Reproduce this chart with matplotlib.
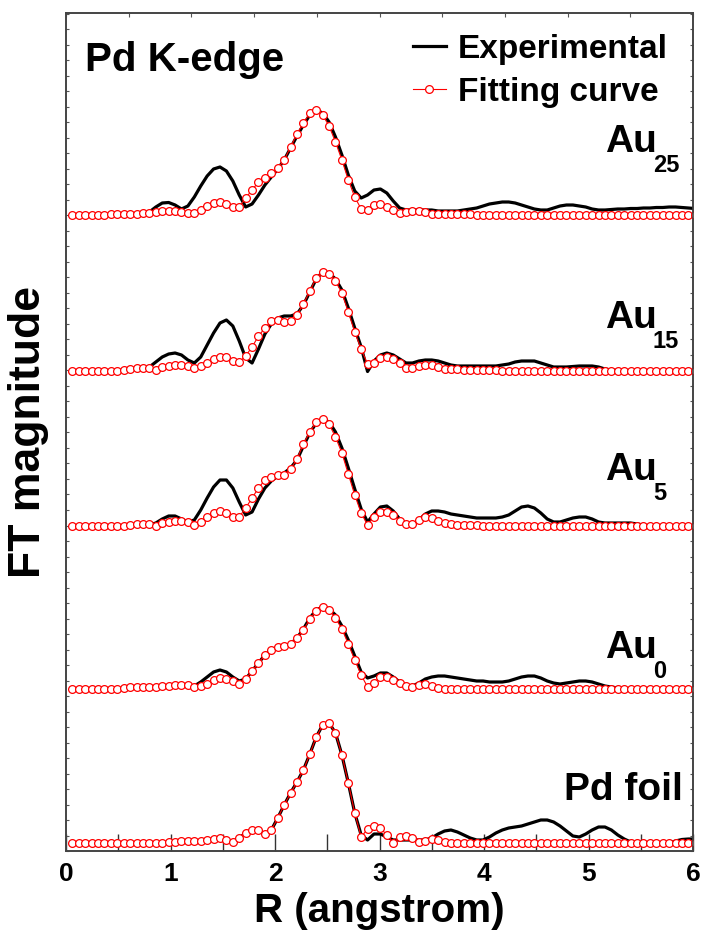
import numpy as np
import matplotlib
matplotlib.use("Agg")
import matplotlib.pyplot as plt
from matplotlib.ticker import MultipleLocator

plt.rcParams['font.family'] = ['Liberation Sans', 'DejaVu Sans']
plt.rcParams['font.weight'] = 'bold'

# R grid (angstrom) for the spectra
r = np.arange(1, 99) * 0.0614

# heights above baseline
au25_fit = [0, 0, 0, 0, 0, 0, 0.5, 0.5, 1, 1, 1, 1.5,
            2, 3, 4, 4, 4, 3, 2, 2,
            5, 9, 12, 13, 11, 8, 8, 17, 25, 33,
            37, 42, 47, 55, 68, 81, 92, 102, 105, 100,
            89, 73, 55, 35, 18, 6, 5, 10, 11, 8,
            5, 2, 3, 4, 4, 3, 1, 1, 1, 0.5,
            0.5, 0.5, 0.5, 0, 0, 0, 0, 0, 0, 0,
            0, 0, 0, 0, 0, 0, 0, 0, 0, 0,
            0, 0, 0, 0, 0, 0, 0, 0, 0, 0,
            0, 0, 0, 0, 0, 0, 0, 0]
au25_exp = [0, 0, 0, 0, 0, 0, 0, 0, 0.5, 0.5, 1, 1.5,
            3, 8, 12, 12.5, 10, 6, 9, 18,
            29, 39, 46, 48, 44, 34, 20, 8, 11, 20,
            30, 38, 46, 55, 67, 79, 90, 100, 105, 102,
            93, 78, 60, 40, 24, 17, 20, 25, 26, 22,
            14, 7, 5, 5, 5, 5, 5, 4, 4, 4,
            4, 5, 6, 7, 9, 11, 12, 13, 13, 12,
            10, 8, 6, 5, 5, 7, 9, 10, 10, 9,
            8, 6, 5, 5, 5.5, 6, 6, 6.5, 6.5, 7,
            7, 7.5, 7.5, 8, 8, 7.5, 7, 6.5]

au15_fit = [0, 0, 0, 0, 0, 0, 0, 0, 1, 2, 2.5, 3,
            2.5, 1, 4, 5, 6, 6, 5, 3,
            5, 8, 12, 14, 14, 10, 9, 15, 24, 35,
            43, 50, 51, 49, 50, 56, 67, 80, 93, 99,
            97, 90, 78, 59, 39, 22, 7, 8, 13, 14,
            12, 8, 3, 3, 5, 6, 6, 4, 2, 2,
            1.5, 1, 1, 1, 0.5, 0.5, 0.5, 0, 0, 0,
            0, 0, 0, 0, 0, 0, 0, 0, 0, 0,
            0, 0, 0, 0, 0, 0, 0, 0, 0, 0,
            0, 0, 0, 0, 0, 0, 0, 0]
au15_exp = [0, 0, 0, 0, 0, 0, 0, 0, 1, 2, 2.5, 3,
            4, 9, 14, 17, 18, 16, 11, 8,
            14, 26, 38, 48, 51, 45, 30, 13, 8, 22,
            37, 47, 53, 55, 55, 57, 66, 79, 92, 99,
            98, 92, 81, 63, 43, 24, -0.5, 10, 16, 18,
            16, 12, 8, 8, 10, 11, 11, 10, 8, 6,
            5, 5, 5, 5, 5, 5, 5, 6, 7, 9,
            10, 10, 10, 8, 6, 4, 4, 4, 4.5, 5,
            5, 5, 4, 2, 1, 0.5, 0, 0, 0, 0,
            0, 0, 0, 0, 0, 0, 0, 0]

au5_fit = [0, 0, 0, 0, 0, 0, 0, 0, 0, 1, 2, 2,
           2, 0.5, 3, 4, 5, 5, 4, 1,
           4, 9, 13, 15, 13, 9, 9, 18, 28, 38,
           46, 49, 51, 51, 57, 67, 82, 94, 104, 107,
           102, 89, 73, 52, 31, 13, 1, 9, 14, 14,
           11, 5, 2, 2, 6, 9, 8, 5, 3, 2,
           1.5, 1, 1, 1, 0.5, 0, 0, 0, 0, 0,
           0, 0, 0, 0, 0, 0, 0, 0, 0, 0,
           0, 0, 0, 0, 0, 0, 0, 0, 0, 0,
           0, 0, 0, 0, 0, 0, 0, 0]
au5_exp = [0, 0, 0, 0, 0, 0, 0, 0, 0, 0, 0.5, 0.5,
           1, 3, 7, 10, 10, 7, 4, 6,
           16, 28, 39, 46, 46, 38, 24, 11, 14, 27,
           38, 45, 50, 53, 58, 66, 80, 93, 103, 107,
           104, 94, 78, 58, 37, 17, 4, 12, 19, 20,
           15, 7, 2, 1, 6, 12, 15, 15, 14, 12,
           11, 10, 9, 8, 8, 8, 8, 9, 11, 15,
           19, 20, 18, 13, 7, 4, 4, 6, 8, 9,
           9, 7, 4, 3, 3, 3, 3, 3, 2, 1,
           0, 0, 0, 0, 0, 0, 0, 0]

au0_fit = [0, 0, 0, 0, 0, 0, 0, 0, 1, 2, 2, 2,
           2, 2, 3, 3, 4, 4, 4, 2,
           3, 5, 9, 11, 10, 8, 5, 10, 18, 26,
           34, 39, 42, 43, 45, 51, 59, 70, 78, 82,
           79, 71, 60, 45, 29, 14, 2, 6, 12, 12,
           9, 6, 3, 2, 4, 5, 3, 1, 0.5, 0.5,
           0, 0, 0, 0, 0, 0, 0, 0, 0, 0,
           0, 0, 0, 0, 0, 0, 0, 0, 0, 0,
           0, 0, 0, 0, 0, 0, 0, 0, 0, 0,
           0, 0, 0, 0, 0, 0, 0, 0]
au0_exp = [0, 0, 0, 0, 0, 0, 0, 0, 1, 2, 2, 2,
           2, 2, 3, 3, 4, 4, 3, 3,
           7, 12, 17, 19, 17, 12, 8, 10, 18, 26,
           34, 39, 42, 43, 45, 51, 60, 71, 79, 82,
           80, 74, 63, 49, 33, 17, 11, 13, 16, 16,
           12, 7, 3, 3, 6, 10, 12, 13, 13, 12,
           11, 10, 9, 8, 8, 7, 7, 7, 8, 10,
           12, 13, 13, 11, 8, 6, 5, 6, 7, 8,
           8, 7, 5, 3, 2, 1, 0, 0, 0, 0,
           0, 0, 0, 0, 0, 0, 0, 0]

foil_fit = [0, 0, 0, 0, 0, 0, 0, 0, 0, 0, 0, 0,
            0, 0, 0, 1, 1, 2, 2, 2,
            2, 3, 4, 5, 3, 1, 5, 10, 13, 13,
            9, 13, 25, 38, 50, 61, 73, 89, 106, 118,
            120, 110, 88, 60, 30, 6, 14, 17, 15, 8,
            0, 6, 7, 5, 1, 2, 4, 3, 1, 0,
            0, 0, 0, 0, 0, 0, 0, 0, 0, 0,
            0, 0, 0, 0, 0, 0, 0, 0, 0, 0,
            0, 0, 0, 0, 0, 0, 0, 0, 0, 0,
            0, 0, 0, 0, 0, 0, 0, 0]
foil_exp = [0, 0, 0, 0, 0, 0, 0, 0, 0, 0, 0, 0,
            0, 0, 0, 1, 1, 2, 2, 2,
            2, 3, 4, 5, 3, 1, 5, 10, 13, 13,
            9, 13, 25, 38, 50, 61, 73, 89, 106, 118,
            120, 110, 88, 60, 30, 8, 3, 9, 9, 6,
            3, 3, 3, 3, 3, 3, 5, 9, 12, 13,
            11, 8, 5, 3, 3, 6, 10, 13, 15, 16,
            17, 19, 21, 23, 23, 21, 17, 12, 7, 6,
            9, 13, 16, 16, 13, 8, 4, 1, 0, 0,
            0, 0, 0, 0, 2, 3.5, 4, 4]

samples = ["Pd foil", "Au0", "Au5", "Au15", "Au25"]
offsets = [8, 162, 325, 480, 636]
exp_data = [foil_exp, au0_exp, au5_exp, au15_exp, au25_exp]
fit_data = [foil_fit, au0_fit, au5_fit, au15_fit, au25_fit]

fig = plt.figure(figsize=(7.02, 9.40), dpi=100)
ax = fig.add_axes([66 / 702, 89 / 940, 627 / 702, 838 / 940])

for i in range(len(samples)):
    ye = np.array(exp_data[i]) + offsets[i]
    yf = np.array(fit_data[i]) + offsets[i]
    ax.plot(r, ye, color='black', lw=2.3, zorder=3,
            label='Experimental' if i == 0 else None)
    ax.plot(r, yf, color='red', lw=0.8, marker='o', ms=5.6, mfc='white',
            mec='red', mew=0.9, zorder=4,
            label='Fitting curve' if i == 0 else None)

ax.set_xlim(0, 6)
ax.set_ylim(0, 838)

ax.xaxis.set_major_locator(MultipleLocator(1))
ax.xaxis.set_minor_locator(MultipleLocator(0.5))
ax.yaxis.set_major_locator(MultipleLocator(15.5))
ax.tick_params(axis='x', which='both', direction='in', length=12, width=1,
               top=False, labelsize=19, pad=8, color='#333333')
ax.tick_params(axis='y', which='both', direction='in', length=2.5, width=0.8,
               left=True, right=True, labelleft=False, color='#555555')
for lab in ax.get_xticklabels():
    lab.set_fontweight('bold')

# top ticks
ax_top = ax.twiny()
ax_top.set_xlim(0, 6)
ax_top.set_xticks(np.arange(0, 6.01, 0.6))
ax_top.tick_params(axis='x', direction='in', length=3, width=0.8,
                   labeltop=False, color='#555555')

for a in (ax, ax_top):
    for s in a.spines.values():
        s.set_color('#444444')
        s.set_linewidth(1.2)

ax.set_xlabel('R (angstrom)', fontsize=29, fontweight='bold', labelpad=4)
ax.set_ylabel('FT magnitude', fontsize=32, fontweight='bold', labelpad=12)

ax.text(0.18, 780, 'Pd K-edge', fontsize=29, fontweight='bold',
        ha='left', va='baseline')

# sample labels (Au with subscript)
subs = ["0", "5", "15", "25"]
au_base = [193, 371, 523, 699]
for s, yb in zip(subs, au_base):
    ax.text(5.65, yb, 'Au', fontsize=28, fontweight='bold',
            ha='right', va='baseline')
    ax.text(5.615, yb - 20, s, fontsize=17, fontweight='bold',
            ha='left', va='baseline')
ax.text(5.90, 51, 'Pd foil', fontsize=28, fontweight='bold',
        ha='right', va='baseline')

ax.legend(loc='upper right', bbox_to_anchor=(0.960, 0.975), frameon=False,
          handlelength=1.0, handletextpad=0.36,
          labelspacing=0.35, borderpad=0, borderaxespad=0,
          prop={'weight': 'bold', 'size': 24})

fig.savefig('out.png', dpi=100)
